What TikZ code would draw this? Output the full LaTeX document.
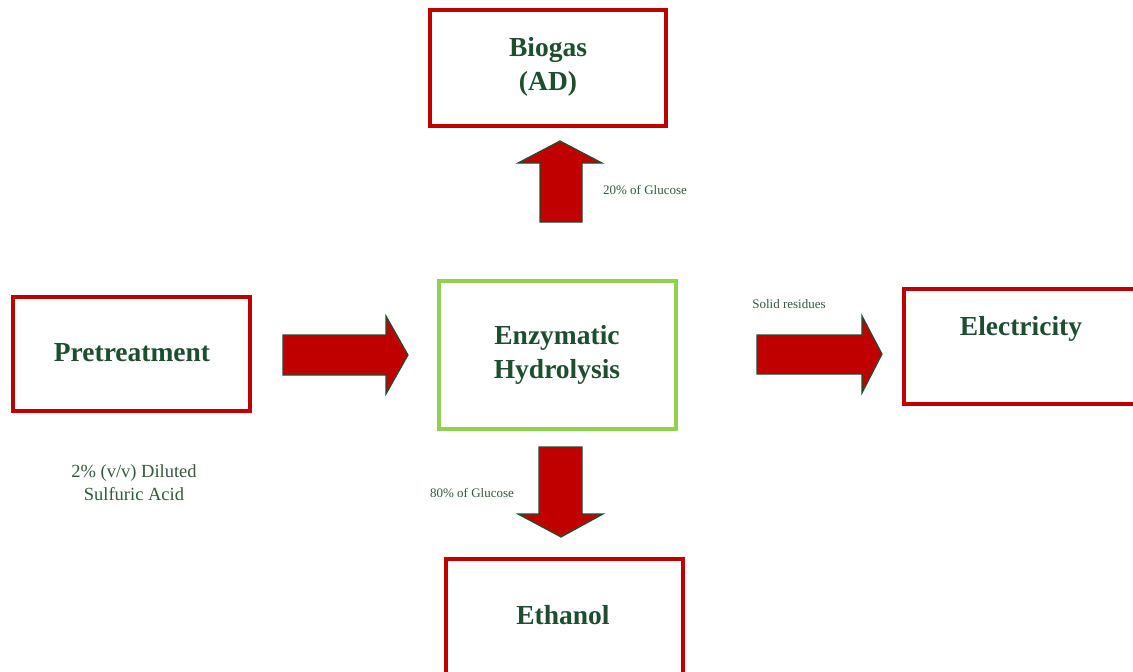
\documentclass[tikz,border=0pt]{standalone}
\usepackage{fontspec}
\setmainfont{Liberation Serif}
\definecolor{boxred}{RGB}{192,0,0}
\definecolor{boxgreen}{RGB}{146,208,80}
\definecolor{txtgreen}{RGB}{30,78,48}
\definecolor{lbltxt}{RGB}{50,90,60}
\begin{document}
\begin{tikzpicture}[x=1pt,y=-1pt,
  procbox/.style={draw=boxred,line width=4pt,fill=white,inner sep=0pt},
  bigtxt/.style={font=\fontsize{27.5}{34.5}\selectfont\bfseries,text=txtgreen,align=center},
  smalltxt/.style={font=\fontsize{13}{15}\selectfont,text=lbltxt,align=center},
  midtxt/.style={font=\fontsize{18.5}{23}\selectfont,text=lbltxt,align=center},
  blockarrow/.style={fill=boxred,draw=txtgreen,line width=1.2pt,line join=miter}]
\clip (0,0) rectangle (1133,672);
\fill[white] (0,0) rectangle (1133,672);
% boxes
\draw[procbox] (430,10) rectangle (666,126);
\node[bigtxt] (biogas) at (548,67) {Biogas\\(AD)};
\draw[procbox] (13,297) rectangle (250,411);
\node[bigtxt] (pre) at (132,353) {Pretreatment};
\draw[draw=boxgreen,line width=4pt] (439,281) rectangle (676,429);
\node[bigtxt] (enz) at (557,355) {Enzymatic\\Hydrolysis};
\draw[procbox] (904,289) rectangle (1145,404);
\node[bigtxt] (elec) at (1021,329) {Electricity};
\draw[procbox] (446,559) rectangle (683,690);
\node[bigtxt] (eth) at (563,615) {Ethanol};
% block arrows
\draw[blockarrow] (540,222) -- (540,163) -- (518,163) -- (560,141) -- (602,163) -- (582,163) -- (582,222) -- cycle;
\draw[blockarrow] (283,335) -- (386,335) -- (386,316) -- (408,355) -- (386,394) -- (386,375) -- (283,375) -- cycle;
\draw[blockarrow] (757,335) -- (862,335) -- (862,316) -- (882,354) -- (862,393) -- (862,374) -- (757,374) -- cycle;
\draw[blockarrow] (539,447) -- (582,447) -- (582,514) -- (603,514) -- (561,537) -- (518,514) -- (539,514) -- cycle;
% labels
\node[smalltxt] (l20) at (645,190) {20\% of Glucose};
\node[smalltxt] (lsolid) at (789,304) {Solid residues};
\node[smalltxt] (l80) at (472,493) {80\% of Glucose};
\node[midtxt] (acid) at (134,483) {2\% (v/v) Diluted\\Sulfuric Acid};
\end{tikzpicture}
\end{document}
